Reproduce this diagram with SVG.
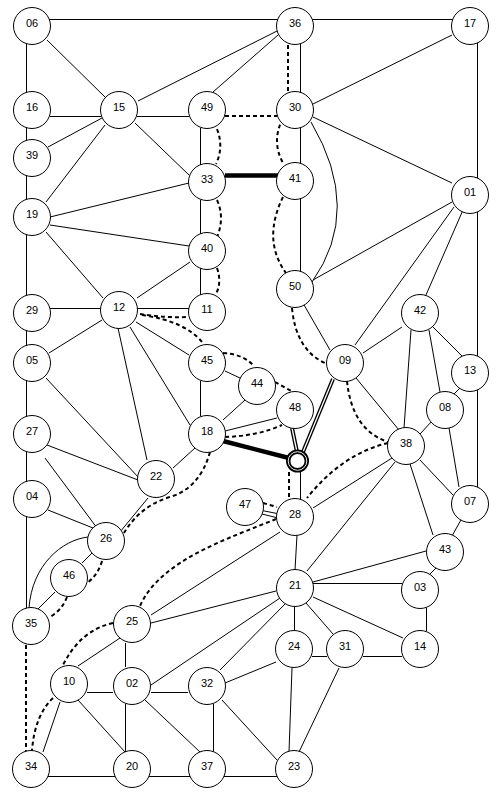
<svg xmlns="http://www.w3.org/2000/svg" width="503" height="798" viewBox="0 0 503 798">
<style>
.e{stroke:#000;stroke-width:1;fill:none}
.h{shape-rendering:crispEdges}
.d{stroke:#000;stroke-width:2;stroke-dasharray:4 3;fill:none}
.t{stroke:#000;stroke-width:4.5;fill:none}
.db{stroke:#000;stroke-width:4;fill:none}
.dw{stroke:#fff;stroke-width:1.3;fill:none}
.n circle{fill:#fff;stroke:#000;stroke-width:1}
.n text{font-family:"Liberation Sans",Arial,sans-serif;font-size:11px;text-anchor:middle;fill:#000}
</style>
<rect width="503" height="798" fill="#fff"/>
<g id="connectors">
<!-- border -->
<line class="e h" x1="40" y1="19" x2="285" y2="19"/>
<line class="e h" x1="305" y1="19" x2="460" y2="19"/>
<line class="e h" x1="26" y1="30" x2="26" y2="620"/>
<line class="d" x1="26" y1="645" x2="26" y2="752"/>
<line class="e h" x1="31" y1="776" x2="294" y2="776"/>
<line class="e h" x1="477" y1="26" x2="477" y2="504"/>
<!-- top-left -->
<line class="e" x1="47" y1="40" x2="106" y2="98"/>
<line class="e" x1="138" y1="101" x2="277" y2="31"/>
<line class="e" x1="213" y1="92" x2="278" y2="35"/>
<line class="e h" x1="50" y1="116" x2="101" y2="116"/>
<line class="e h" x1="137" y1="116" x2="189" y2="116"/>
<line class="d" x1="225" y1="116" x2="277" y2="116"/>
<line class="e" x1="48" y1="147" x2="102" y2="118"/>
<line class="e" x1="46" y1="202" x2="105" y2="125"/>
<line class="e" x1="135" y1="123" x2="189" y2="175"/>
<line class="e h" x1="200" y1="128" x2="200" y2="165"/>
<path class="d" d="M217,129 Q224,147 216,164"/>
<line class="t" x1="225" y1="175.5" x2="278" y2="175.5"/>
<line class="e" x1="50" y1="217" x2="189" y2="183"/>
<line class="e" x1="50" y1="225" x2="189" y2="246"/>
<line class="e h" x1="200" y1="200" x2="200" y2="234"/>
<path class="d" d="M217,200 Q225,218 217,237"/>
<line class="e h" x1="200" y1="268" x2="200" y2="295"/>
<path class="d" d="M217,268 Q222,282 216,294"/>
<line class="e" x1="46" y1="232" x2="103" y2="298"/>
<line class="e" x1="190" y1="262" x2="137" y2="298"/>
<!-- top-right -->
<line class="e h" x1="300" y1="44" x2="300" y2="93"/>
<line class="d" x1="288" y1="45" x2="288" y2="93"/>
<line class="e" x1="452" y1="35" x2="313" y2="104"/>
<line class="e" x1="313" y1="117" x2="452" y2="183"/>
<line class="e h" x1="300" y1="128" x2="300" y2="163"/>
<path class="d" d="M283,118 Q271,141 283,163"/>
<path class="e" d="M311,122 Q363,210 312,282"/>
<line class="e h" x1="300" y1="198" x2="300" y2="272"/>
<path class="d" d="M283,197 Q262,240 286,273"/>
<line class="e" x1="452" y1="202" x2="313" y2="280"/>
<line class="e" x1="454" y1="207" x2="355" y2="345"/>
<line class="e" x1="463" y1="210" x2="426" y2="295"/>
<!-- middle-left -->
<line class="e h" x1="50" y1="308" x2="101" y2="308"/>
<line class="e h" x1="137" y1="308" x2="189" y2="308"/>
<path class="d" d="M140,314 Q165,318 188,317"/>
<line class="e" x1="136" y1="322" x2="189" y2="355"/>
<path class="d" d="M142,315 Q185,321 203,343"/>
<line class="e" x1="102" y1="320" x2="49" y2="353"/>
<line class="e" x1="118" y1="328" x2="147" y2="460"/>
<line class="e" x1="130" y1="327" x2="190" y2="425"/>
<line class="e" x1="46" y1="378" x2="139" y2="478"/>
<line class="e h" x1="200" y1="381" x2="200" y2="416"/>
<line class="e" x1="225" y1="371" x2="240" y2="378"/>
<path class="d" d="M223,353 Q243,354 254,366"/>
<line class="d" x1="275" y1="382" x2="293" y2="392"/>
<line class="e" x1="223" y1="420" x2="245" y2="400"/>
<line class="e" x1="225" y1="431" x2="277" y2="418"/>
<path class="d" d="M225,437 Q258,436 282,425"/>
<line class="t" x1="223" y1="441" x2="289" y2="458"/>
<line class="db" x1="292" y1="428" x2="297" y2="452"/>
<line class="dw" x1="292" y1="428" x2="297" y2="452"/>
<line class="db" x1="333" y1="379" x2="303" y2="452"/>
<line class="dw" x1="333" y1="379" x2="303" y2="452"/>
<line class="e" x1="195" y1="448" x2="173" y2="468"/>
<path class="d" d="M210,452 Q200,488 170,497 T124,533"/>
<line class="e" x1="47" y1="445" x2="138" y2="480"/>
<line class="e" x1="45" y1="458" x2="100" y2="532"/>
<line class="e" x1="148" y1="498" x2="120" y2="532"/>
<line class="e" x1="48" y1="510" x2="93" y2="528"/>
<path class="e" d="M88,537 C62,540 32,565 29,608"/>
<line class="e" x1="92" y1="553" x2="82" y2="563"/>
<path class="d" d="M102,561 Q98,575 87,583"/>
<line class="e" x1="55" y1="592" x2="38" y2="609"/>
<path class="d" d="M67,597 Q62,610 50,617"/>
<!-- middle-right -->
<line class="e" x1="300" y1="298" x2="330" y2="350"/>
<path class="d" d="M292,308 Q296,350 325,363"/>
<line class="e" x1="363" y1="353" x2="402" y2="327"/>
<line class="e" x1="411" y1="330" x2="404" y2="428"/>
<line class="e" x1="429" y1="330" x2="440" y2="392"/>
<line class="e" x1="433" y1="327" x2="462" y2="356"/>
<line class="e" x1="460" y1="388" x2="452" y2="396"/>
<line class="e" x1="356" y1="378" x2="399" y2="430"/>
<path class="d" d="M347,381 Q352,430 388,442"/>
<line class="e" x1="432" y1="421" x2="420" y2="434"/>
<line class="e" x1="449" y1="428" x2="459" y2="487"/>
<line class="e" x1="420" y1="460" x2="453" y2="495"/>
<line class="e" x1="410" y1="464" x2="433" y2="535"/>
<line class="e" x1="462" y1="518" x2="452" y2="536"/>
<path class="d" d="M388,443 Q342,454 307,498"/>
<line class="e" x1="392" y1="458" x2="313" y2="508"/>
<line class="e" x1="395" y1="462" x2="307" y2="571"/>
<line class="e h" x1="300" y1="471" x2="300" y2="499"/>
<line class="d" x1="289" y1="472" x2="289" y2="499"/>
<!-- lower -->
<line class="d" x1="263" y1="503" x2="277" y2="507"/>
<line class="e" x1="262" y1="510.5" x2="277" y2="513.5"/>
<line class="e" x1="262" y1="514" x2="276" y2="517.5"/>
<path class="d" d="M276,519 C230,538 160,560 140,606"/>
<line class="e" x1="280" y1="532" x2="151" y2="615"/>
<line class="e" x1="297" y1="535" x2="295" y2="570"/>
<line class="e" x1="426" y1="551" x2="313" y2="582"/>
<line class="e" x1="437" y1="567" x2="428" y2="576"/>
<line class="e h" x1="313" y1="583" x2="402" y2="583"/>
<line class="e h" x1="426" y1="608" x2="426" y2="631"/>
<line class="e" x1="313" y1="597" x2="403" y2="638"/>
<line class="e" x1="306" y1="603" x2="333" y2="634"/>
<line class="e h" x1="294" y1="606" x2="294" y2="631"/>
<line class="e h" x1="312" y1="656" x2="327" y2="656"/>
<line class="e h" x1="363" y1="656" x2="402" y2="656"/>
<line class="e" x1="292" y1="668" x2="289" y2="752"/>
<line class="e" x1="339" y1="668" x2="299" y2="752"/>
<line class="e" x1="276" y1="662" x2="225" y2="683"/>
<line class="e" x1="276" y1="591" x2="151" y2="623"/>
<line class="e" x1="280" y1="598" x2="151" y2="685"/>
<line class="e" x1="285" y1="604" x2="220" y2="670"/>
<line class="e" x1="120" y1="638" x2="78" y2="666"/>
<path class="d" d="M113,623 Q80,630 62,667"/>
<line class="e h" x1="125" y1="643" x2="125" y2="667"/>
<line class="e h" x1="87" y1="692" x2="113" y2="692"/>
<line class="e h" x1="151" y1="692" x2="188" y2="692"/>
<line class="e" x1="78" y1="700" x2="125" y2="752"/>
<line class="e h" x1="125" y1="704" x2="125" y2="752"/>
<line class="e" x1="145" y1="700" x2="200" y2="752"/>
<line class="e h" x1="213" y1="704" x2="213" y2="752"/>
<line class="e" x1="222" y1="700" x2="277" y2="760"/>
<line class="e" x1="60" y1="702" x2="43" y2="752"/>
<path class="d" d="M53,698 Q35,715 32,750"/>
</g>
<g id="n06" class="n"><circle cx="32" cy="26" r="18.5"/><text x="32" y="27">06</text></g>
<g id="n36" class="n"><circle cx="295" cy="26" r="18.5"/><text x="295" y="27">36</text></g>
<g id="n17" class="n"><circle cx="470" cy="26" r="18.5"/><text x="470" y="27">17</text></g>
<g id="n16" class="n"><circle cx="32" cy="110" r="18.5"/><text x="32" y="111">16</text></g>
<g id="n15" class="n"><circle cx="119" cy="110" r="18.5"/><text x="119" y="111">15</text></g>
<g id="n49" class="n"><circle cx="207" cy="110" r="18.5"/><text x="207" y="111">49</text></g>
<g id="n30" class="n"><circle cx="295" cy="110" r="18.5"/><text x="295" y="111">30</text></g>
<g id="n39" class="n"><circle cx="32" cy="158" r="18.5"/><text x="32" y="159">39</text></g>
<g id="n33" class="n"><circle cx="207" cy="182" r="18.5"/><text x="207" y="183">33</text></g>
<g id="n41" class="n"><circle cx="295" cy="181" r="18.5"/><text x="295" y="182">41</text></g>
<g id="n01" class="n"><circle cx="470" cy="195" r="18.5"/><text x="470" y="196">01</text></g>
<g id="n19" class="n"><circle cx="32" cy="217" r="18.5"/><text x="32" y="218">19</text></g>
<g id="n40" class="n"><circle cx="207" cy="251" r="18.5"/><text x="207" y="252">40</text></g>
<g id="n50" class="n"><circle cx="295" cy="289" r="18.5"/><text x="295" y="290">50</text></g>
<g id="n29" class="n"><circle cx="32" cy="313" r="18.5"/><text x="32" y="314">29</text></g>
<g id="n12" class="n"><circle cx="119" cy="310" r="18.5"/><text x="119" y="311">12</text></g>
<g id="n11" class="n"><circle cx="207" cy="312" r="18.5"/><text x="207" y="313">11</text></g>
<g id="n42" class="n"><circle cx="420" cy="313" r="18.5"/><text x="420" y="314">42</text></g>
<g id="n05" class="n"><circle cx="32" cy="363" r="18.5"/><text x="32" y="364">05</text></g>
<g id="n45" class="n"><circle cx="207" cy="363" r="18.5"/><text x="207" y="364">45</text></g>
<g id="n09" class="n"><circle cx="345" cy="363" r="18.5"/><text x="345" y="364">09</text></g>
<g id="n13" class="n"><circle cx="470" cy="373" r="18.5"/><text x="470" y="374">13</text></g>
<g id="n44" class="n"><circle cx="257" cy="386" r="18.5"/><text x="257" y="387">44</text></g>
<g id="n48" class="n"><circle cx="295" cy="410" r="18.5"/><text x="295" y="411">48</text></g>
<g id="n08" class="n"><circle cx="445" cy="410" r="18.5"/><text x="445" y="411">08</text></g>
<g id="n27" class="n"><circle cx="32" cy="434" r="18.5"/><text x="32" y="435">27</text></g>
<g id="n18" class="n"><circle cx="207" cy="434" r="18.5"/><text x="207" y="435">18</text></g>
<g id="n38" class="n"><circle cx="406" cy="446" r="18.5"/><text x="406" y="447">38</text></g>
<g id="hub"><circle cx="297.5" cy="461" r="9.3" fill="#fff" stroke="#000" stroke-width="4.4"/><circle cx="297.5" cy="461" r="9.3" fill="none" stroke="#fff" stroke-width="0.9"/></g>
<g id="n22" class="n"><circle cx="156" cy="479" r="18.5"/><text x="156" y="480">22</text></g>
<g id="n04" class="n"><circle cx="32" cy="499" r="18.5"/><text x="32" y="500">04</text></g>
<g id="n47" class="n"><circle cx="245" cy="507" r="18.5"/><text x="245" y="508">47</text></g>
<g id="n07" class="n"><circle cx="470" cy="504" r="18.5"/><text x="470" y="505">07</text></g>
<g id="n28" class="n"><circle cx="295" cy="517" r="18.5"/><text x="295" y="518">28</text></g>
<g id="n26" class="n"><circle cx="106" cy="541" r="18.5"/><text x="106" y="542">26</text></g>
<g id="n43" class="n"><circle cx="445" cy="552" r="18.5"/><text x="445" y="553">43</text></g>
<g id="n46" class="n"><circle cx="69" cy="578" r="18.5"/><text x="69" y="579">46</text></g>
<g id="n21" class="n"><circle cx="295" cy="588" r="18.5"/><text x="295" y="589">21</text></g>
<g id="n03" class="n"><circle cx="420" cy="590" r="18.5"/><text x="420" y="591">03</text></g>
<g id="n35" class="n"><circle cx="31" cy="626" r="18.5"/><text x="31" y="627">35</text></g>
<g id="n25" class="n"><circle cx="132" cy="624" r="18.5"/><text x="132" y="625">25</text></g>
<g id="n24" class="n"><circle cx="294" cy="649" r="18.5"/><text x="294" y="650">24</text></g>
<g id="n31" class="n"><circle cx="345" cy="649" r="18.5"/><text x="345" y="650">31</text></g>
<g id="n14" class="n"><circle cx="420" cy="649" r="18.5"/><text x="420" y="650">14</text></g>
<g id="n10" class="n"><circle cx="69" cy="684" r="18.5"/><text x="69" y="685">10</text></g>
<g id="n02" class="n"><circle cx="132" cy="686" r="18.5"/><text x="132" y="687">02</text></g>
<g id="n32" class="n"><circle cx="207" cy="686" r="18.5"/><text x="207" y="687">32</text></g>
<g id="n34" class="n"><circle cx="31" cy="769" r="18.5"/><text x="31" y="770">34</text></g>
<g id="n20" class="n"><circle cx="132" cy="769" r="18.5"/><text x="132" y="770">20</text></g>
<g id="n37" class="n"><circle cx="207" cy="769" r="18.5"/><text x="207" y="770">37</text></g>
<g id="n23" class="n"><circle cx="294" cy="769" r="18.5"/><text x="294" y="770">23</text></g>
</svg>
